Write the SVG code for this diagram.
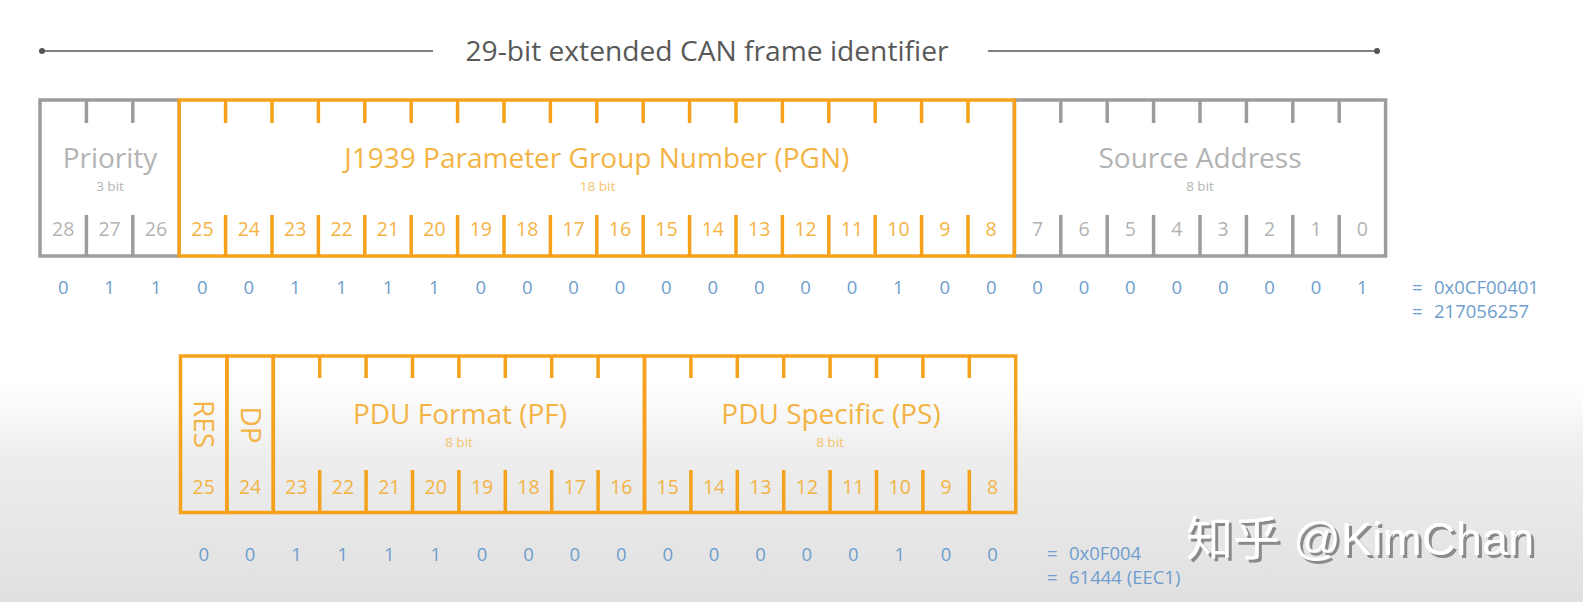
<svg xmlns="http://www.w3.org/2000/svg" width="1583" height="602" viewBox="0 0 1583 602">
<defs>
<linearGradient id="bg" x1="0" y1="0" x2="0" y2="602" gradientUnits="userSpaceOnUse">
<stop offset="0" stop-color="#ffffff"/>
<stop offset="0.64" stop-color="#ffffff"/>
<stop offset="0.75" stop-color="#eeeeee"/>
<stop offset="1" stop-color="#e0e0e0"/>
</linearGradient>
<filter id="sh" x="-10%" y="-30%" width="120%" height="160%">
<feDropShadow dx="3" dy="3" stdDeviation="0.6" flood-color="#8a8a8a" flood-opacity="1"/>
</filter>
</defs>
<style>
text{font-family:"Open Sans","Noto Sans",sans-serif}
.gs{fill:none;stroke:#9c9c9c;stroke-width:3.5}
.os{fill:none;stroke:#f6a11c;stroke-width:3.5}
.lbl{font-size:28px;text-anchor:middle}
.sub{font-size:13.5px;text-anchor:middle}
.bn{font-size:19.5px;text-anchor:middle}
.gt{fill:#b3b3b3}
.ot{fill:#f3b445}
.ost{fill:#f4c46c}
.val{font-size:18.5px;fill:#6e9ecd;text-anchor:middle}
.res{font-size:18.5px;fill:#6e9ecd}
</style>
<rect x="0" y="0" width="1583" height="602" fill="url(#bg)"/>

<g id="connectors">
<line x1="42" y1="51" x2="433" y2="51" stroke="#808080" stroke-width="2"/>
<line x1="988" y1="51" x2="1377" y2="51" stroke="#808080" stroke-width="2"/>
<circle cx="42" cy="51" r="3" fill="#555"/>
<circle cx="1377" cy="51" r="3" fill="#555"/>
</g>

<g id="title">
<text x="707" y="61" font-size="28.2" text-anchor="middle" fill="#585858">29-bit extended CAN frame identifier</text>
</g>

<g id="priority">
<rect class="gs" x="40" y="100" width="139.2" height="156"/>
<path class="gs" d="M86.4,100V123M132.8,100V123M86.4,215V256M132.8,215V256"/>
<text class="lbl gt" x="110" y="168">Priority</text>
<text class="sub gt" x="110" y="191">3 bit</text>
<g class="bn gt">
<text x="63.2" y="236">28</text><text x="109.6" y="236">27</text><text x="156" y="236">26</text>
</g>
</g>

<g id="source-address">
<rect class="gs" x="1014.4" y="100" width="371.2" height="156"/>
<path class="gs" d="M1060.8,100V123M1107.2,100V123M1153.6,100V123M1200,100V123M1246.4,100V123M1292.8,100V123M1339.2,100V123M1060.8,215V256M1107.2,215V256M1153.6,215V256M1200,215V256M1246.4,215V256M1292.8,215V256M1339.2,215V256"/>
<text class="lbl gt" x="1200" y="168">Source Address</text>
<text class="sub gt" x="1200" y="191">8 bit</text>
<g class="bn gt">
<text x="1037.6" y="236">7</text><text x="1084" y="236">6</text><text x="1130.4" y="236">5</text><text x="1176.8" y="236">4</text><text x="1223.2" y="236">3</text><text x="1269.6" y="236">2</text><text x="1316" y="236">1</text><text x="1362.4" y="236">0</text>
</g>
</g>

<g id="pgn">
<rect class="os" x="179.2" y="100" width="835.2" height="156"/>
<path class="os" d="M225.6,100V123M272,100V123M318.4,100V123M364.8,100V123M411.2,100V123M457.6,100V123M504,100V123M550.4,100V123M596.8,100V123M643.2,100V123M689.6,100V123M736,100V123M782.4,100V123M828.8,100V123M875.2,100V123M921.6,100V123M968,100V123M225.6,215V256M272,215V256M318.4,215V256M364.8,215V256M411.2,215V256M457.6,215V256M504,215V256M550.4,215V256M596.8,215V256M643.2,215V256M689.6,215V256M736,215V256M782.4,215V256M828.8,215V256M875.2,215V256M921.6,215V256M968,215V256"/>
<text class="lbl ot" x="596.8" y="168">J1939 Parameter Group Number (PGN)</text>
<text class="sub ost" x="597.5" y="191">18 bit</text>
<g class="bn ot">
<text x="202.4" y="236">25</text><text x="248.8" y="236">24</text><text x="295.2" y="236">23</text><text x="341.6" y="236">22</text><text x="388" y="236">21</text><text x="434.4" y="236">20</text><text x="480.8" y="236">19</text><text x="527.2" y="236">18</text><text x="573.6" y="236">17</text><text x="620" y="236">16</text><text x="666.4" y="236">15</text><text x="712.8" y="236">14</text><text x="759.2" y="236">13</text><text x="805.6" y="236">12</text><text x="852" y="236">11</text><text x="898.4" y="236">10</text><text x="944.8" y="236">9</text><text x="991.2" y="236">8</text>
</g>
</g>

<g id="id-values">
<text class="val" x="63.2" y="294">0</text><text class="val" x="109.6" y="294">1</text><text class="val" x="156" y="294">1</text><text class="val" x="202.4" y="294">0</text><text class="val" x="248.8" y="294">0</text><text class="val" x="295.2" y="294">1</text><text class="val" x="341.6" y="294">1</text><text class="val" x="388" y="294">1</text><text class="val" x="434.4" y="294">1</text><text class="val" x="480.8" y="294">0</text><text class="val" x="527.2" y="294">0</text><text class="val" x="573.6" y="294">0</text><text class="val" x="620" y="294">0</text><text class="val" x="666.4" y="294">0</text><text class="val" x="712.8" y="294">0</text><text class="val" x="759.2" y="294">0</text><text class="val" x="805.6" y="294">0</text><text class="val" x="852" y="294">0</text><text class="val" x="898.4" y="294">1</text><text class="val" x="944.8" y="294">0</text><text class="val" x="991.2" y="294">0</text><text class="val" x="1037.6" y="294">0</text><text class="val" x="1084" y="294">0</text><text class="val" x="1130.4" y="294">0</text><text class="val" x="1176.8" y="294">0</text><text class="val" x="1223.2" y="294">0</text><text class="val" x="1269.6" y="294">0</text><text class="val" x="1316" y="294">0</text><text class="val" x="1362.4" y="294">1</text>
<text class="res" x="1412" y="294">=<tspan x="1434">0x0CF00401</tspan></text>
<text class="res" x="1412" y="318">=<tspan x="1434">217056257</tspan></text>
</g>

<g id="res">
<rect class="os" x="180.5" y="356" width="46.4" height="156.5"/>
<text transform="translate(204,424) rotate(90)" x="0" y="10" class="lbl ot" font-size="26">RES</text>
<text class="bn ot" x="203.7" y="494">25</text>
</g>

<g id="dp">
<rect class="os" x="226.9" y="356" width="46.4" height="156.5"/>
<text transform="translate(250.5,425) rotate(90)" x="0" y="10" class="lbl ot" font-size="26">DP</text>
<text class="bn ot" x="250.1" y="494">24</text>
</g>

<g id="pdu-format">
<rect class="os" x="273.3" y="356" width="371.2" height="156.5"/>
<path class="os" d="M319.7,356V378M366.1,356V378M412.5,356V378M458.9,356V378M505.3,356V378M551.7,356V378M598.1,356V378M319.7,470V512.5M366.1,470V512.5M412.5,470V512.5M458.9,470V512.5M505.3,470V512.5M551.7,470V512.5M598.1,470V512.5"/>
<text class="lbl ot" x="460" y="424">PDU Format (PF)</text>
<text class="sub ost" x="459" y="447">8 bit</text>
<g class="bn ot">
<text x="296.5" y="494">23</text><text x="342.9" y="494">22</text><text x="389.3" y="494">21</text><text x="435.7" y="494">20</text><text x="482.1" y="494">19</text><text x="528.5" y="494">18</text><text x="574.9" y="494">17</text><text x="621.3" y="494">16</text>
</g>
</g>

<g id="pdu-specific">
<rect class="os" x="644.5" y="356" width="371.2" height="156.5"/>
<path class="os" d="M690.9,356V378M737.3,356V378M783.7,356V378M830.1,356V378M876.5,356V378M922.9,356V378M969.3,356V378M690.9,470V512.5M737.3,470V512.5M783.7,470V512.5M830.1,470V512.5M876.5,470V512.5M922.9,470V512.5M969.3,470V512.5"/>
<text class="lbl ot" x="831" y="424">PDU Specific (PS)</text>
<text class="sub ost" x="830" y="447">8 bit</text>
<g class="bn ot">
<text x="667.7" y="494">15</text><text x="714.1" y="494">14</text><text x="760.5" y="494">13</text><text x="806.9" y="494">12</text><text x="853.3" y="494">11</text><text x="899.7" y="494">10</text><text x="946.1" y="494">9</text><text x="992.5" y="494">8</text>
</g>
</g>

<g id="pgn-values">
<text class="val" x="203.7" y="561">0</text><text class="val" x="250.1" y="561">0</text><text class="val" x="296.5" y="561">1</text><text class="val" x="342.9" y="561">1</text><text class="val" x="389.3" y="561">1</text><text class="val" x="435.7" y="561">1</text><text class="val" x="482.1" y="561">0</text><text class="val" x="528.5" y="561">0</text><text class="val" x="574.9" y="561">0</text><text class="val" x="621.3" y="561">0</text><text class="val" x="667.7" y="561">0</text><text class="val" x="714.1" y="561">0</text><text class="val" x="760.5" y="561">0</text><text class="val" x="806.9" y="561">0</text><text class="val" x="853.3" y="561">0</text><text class="val" x="899.7" y="561">1</text><text class="val" x="946.1" y="561">0</text><text class="val" x="992.5" y="561">0</text>
<text class="res" x="1047" y="560">=<tspan x="1069">0x0F004</tspan></text>
<text class="res" x="1047" y="584">=<tspan x="1069">61444 (EEC1)</tspan></text>
</g>

<g id="watermark">
<text x="1186" y="555" font-size="47" fill="#ffffff" filter="url(#sh)" style="font-family:'Liberation Sans','Noto Sans CJK SC',sans-serif">知乎 @KimChan</text>
</g>
</svg>
